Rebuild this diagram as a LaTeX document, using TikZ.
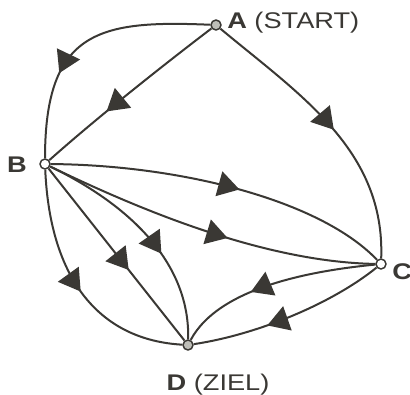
\documentclass[tikz,border=0pt]{standalone}
\usepackage{fontspec}
\setmainfont{Liberation Sans}
\newfontfamily\labelfont[FakeStretch=1.2]{Liberation Sans}
\usepackage{tikz}
\usetikzlibrary{arrows.meta,decorations.markings}

\definecolor{inkgray}{RGB}{58,56,52}
\definecolor{dotgray}{RGB}{190,190,184}

\tikzset{
  edge/.style={inkgray,line width=1.5pt},
  midarrow/.style={postaction={decorate,decoration={markings,
    mark=at position #1 with {\arrow{Triangle[length=16pt,width=19pt]}}}}},
  vertex/.style={circle,draw=inkgray,line width=1.1pt,fill=white,minimum size=7.5pt,inner sep=0pt},
  nodetext/.style={inkgray,inner sep=0.75pt,font=\labelfont\fontsize{17}{20}\selectfont}
}

\begin{document}
\begin{tikzpicture}[x=0.75pt,y=0.75pt,yscale=-1,xscale=1]
\useasboundingbox (0,0) rectangle (410,394);

%Shape: Vertices
\node [vertex,fill=dotgray] (A) at (216,25) {};
\node [vertex] (B) at (45,164) {};
\node [vertex] (C) at (381,264) {};
\node [vertex,fill=dotgray] (D) at (188,345) {};

%Shape: Edges from A
\draw [edge,midarrow=0.66] (A) .. controls (100,20) and (45,30) .. (B) ;
\draw [edge,midarrow=0.64] (A) .. controls (170,60) and (100,115) .. (B) ;
\draw [edge,midarrow=0.52] (A) .. controls (300,95) and (385,150) .. (C) ;
%Shape: Edges from B
\draw [edge,midarrow=0.55] (B) .. controls (180,165) and (320,200) .. (C) ;
\draw [edge,midarrow=0.56] (B) .. controls (130,205) and (260,262) .. (C) ;
\draw [edge,midarrow=0.52] (B) .. controls (50,280) and (100,340) .. (D) ;
\draw [edge,midarrow=0.59] (B) -- (D) ;
\draw [edge,midarrow=0.61] (B) .. controls (140,210) and (190,270) .. (D) ;
%Shape: Edges from C
\draw [edge,midarrow=0.62] (C) .. controls (320,270) and (220,285) .. (D) ;
\draw [edge,midarrow=0.62] (C) .. controls (330,305) and (255,335) .. (D) ;

% Text Node
\draw (226,23) node [nodetext,anchor=west] (labA) {\textbf{A} (START)};
% Text Node
\draw (28,165) node [nodetext,anchor=east] (labB) {\textbf{B}};
% Text Node
\draw (391,272) node [nodetext,anchor=west] (labC) {\textbf{C}};
% Text Node
\draw (218,385) node [nodetext] (labD) {\textbf{D} (ZIEL)};

\end{tikzpicture}
\end{document}
